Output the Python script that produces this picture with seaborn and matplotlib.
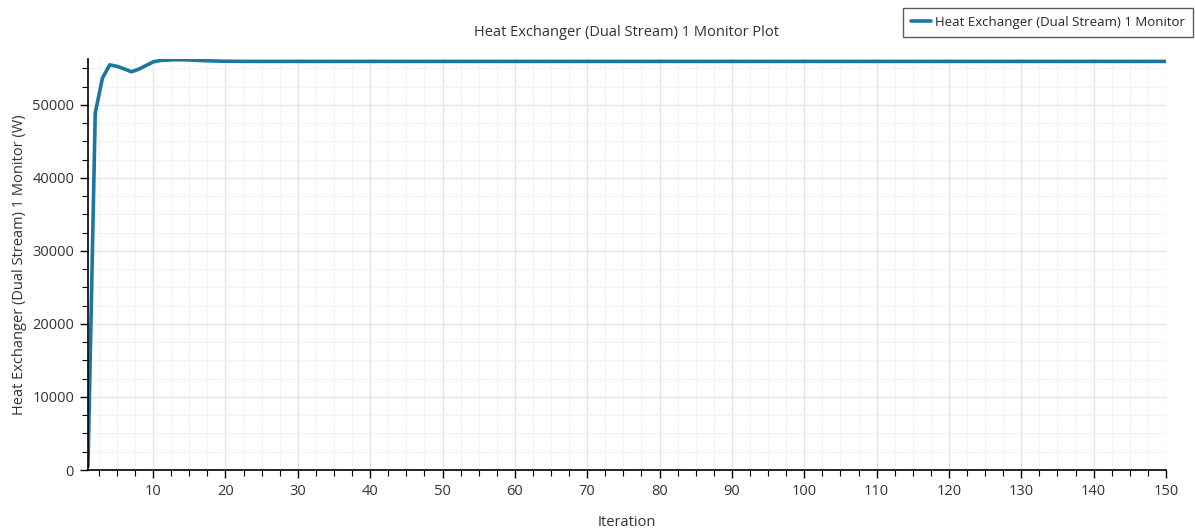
import matplotlib
matplotlib.use("Agg")
import matplotlib.pyplot as plt
import seaborn as sns
import pandas as pd
from matplotlib.ticker import MultipleLocator

series_name = "Heat Exchanger (Dual Stream) 1 Monitor"
title = "Heat Exchanger (Dual Stream) 1 Monitor Plot"
x_label = "Iteration"
y_label = "Heat Exchanger (Dual Stream) 1 Monitor (W)"

iterations = list(range(1, 151))
heat_w = [
    500, 48900, 53700, 55500, 55300, 54950, 54550, 54900, 55400, 55900,
    56100, 56150, 56200, 56200, 56170, 56120, 56070, 56040, 56010, 55990,
    55980, 55975, 55970, 55970, 55970, 55970, 55970, 55970, 55970, 55970,
    55970, 55970, 55970, 55970, 55970, 55970, 55970, 55970, 55970, 55970,
    55970, 55970, 55970, 55970, 55970, 55970, 55970, 55970, 55970, 55970,
    55970, 55970, 55970, 55970, 55970, 55970, 55970, 55970, 55970, 55970,
    55970, 55970, 55970, 55970, 55970, 55970, 55970, 55970, 55970, 55970,
    55970, 55970, 55970, 55970, 55970, 55970, 55970, 55970, 55970, 55970,
    55970, 55970, 55970, 55970, 55970, 55970, 55970, 55970, 55970, 55970,
    55970, 55970, 55970, 55970, 55970, 55970, 55970, 55970, 55970, 55970,
    55970, 55970, 55970, 55970, 55970, 55970, 55970, 55970, 55970, 55970,
    55970, 55970, 55970, 55970, 55970, 55970, 55970, 55970, 55970, 55970,
    55970, 55970, 55970, 55970, 55970, 55970, 55970, 55970, 55970, 55970,
    55970, 55970, 55970, 55970, 55970, 55970, 55970, 55970, 55970, 55970,
    55970, 55970, 55970, 55970, 55970, 55970, 55970, 55970, 55970, 55970,
]
x_ticks = [10, 20, 30, 40, 50, 60, 70, 80, 90, 100, 110, 120, 130, 140, 150]
y_ticks = [0, 10000, 20000, 30000, 40000, 50000]

sns.set_style("white")
plt.rcParams["font.family"] = ["Open Sans", "DejaVu Sans"]

df = pd.DataFrame({"Iteration": iterations, "Value": heat_w})

fig = plt.figure(figsize=(11.95, 5.28), dpi=100)
ax = fig.add_axes([88 / 1195, 1 - 470 / 528, (1166 - 88) / 1195, (470 - 59) / 528])

sns.lineplot(data=df, x="Iteration", y="Value", ax=ax, color="#1b76a0",
             linewidth=2.6, label=series_name)

ax.set_xlim(1, 150)
ax.set_ylim(0, 56300)
ax.set_xticks(x_ticks)
ax.set_yticks(y_ticks)
ax.xaxis.set_minor_locator(MultipleLocator(2.5))
ax.yaxis.set_minor_locator(MultipleLocator(2500))

ax.grid(True, which="major", color="#e6e6e6", linewidth=1.0)
ax.grid(True, which="minor", color="#f3f3f3", linewidth=0.8)
ax.set_axisbelow(True)

for s in ["top", "right"]:
    ax.spines[s].set_visible(False)
for s in ["left", "bottom"]:
    ax.spines[s].set_color("black")
    ax.spines[s].set_linewidth(1.2)

ax.tick_params(axis="both", which="major", direction="out", length=6, width=1,
               color="black", labelsize=10.5, labelcolor="#333333", bottom=True, left=True)
ax.tick_params(axis="both", which="minor", direction="out", length=4, width=0.8,
               color="black", bottom=True, left=True)
ax.tick_params(axis="x", pad=4)
ax.tick_params(axis="y", pad=4)

ax.set_xlabel(x_label, fontsize=10.5, color="#333333", va="center")
ax.xaxis.set_label_coords(0.5, -52 / 411)
ax.set_ylabel(y_label, fontsize=10.5, color="#333333", va="center")
ax.yaxis.set_label_coords(-68 / 1078, 0.5)
fig.text((88 + 1166) / 2 / 1195, 1 - 33 / 528, title, ha="center", va="center",
         fontsize=10.5, color="#333333")

leg = ax.legend(loc="upper right", bbox_to_anchor=(1193 / 1195, 1 - 8 / 528),
                bbox_transform=fig.transFigure, frameon=True, fancybox=False,
                fontsize=9.5, handlelength=1.5, handletextpad=0.3, borderpad=0.6,
                borderaxespad=0)
leg.get_frame().set_edgecolor("#333333")
leg.get_frame().set_linewidth(1.0)

fig.savefig("out.png", dpi=100)
